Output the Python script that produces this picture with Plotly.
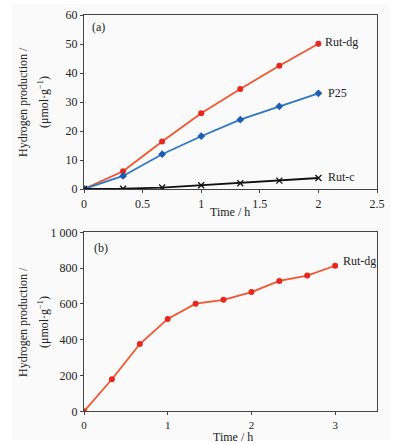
import plotly.graph_objects as go

# Panel (a)
time_a = [0, 1/3, 2/3, 1, 4/3, 5/3, 2]
rut_dg_a = [0, 6.1, 16.4, 26.1, 34.5, 42.5, 50.1]
p25_a = [0, 4.5, 12.0, 18.2, 23.9, 28.5, 33.0]
rut_c_a = [0, 0.1, 0.5, 1.3, 2.0, 2.9, 3.8]
xticks_a = [0, 0.5, 1, 1.5, 2, 2.5]
xticklabels_a = ["0", "0.5", "1", "1.5", "2", "2.5"]
yticks_a = [0, 10, 20, 30, 40, 50, 60]

# Panel (b)
time_b = [0, 1/3, 2/3, 1, 4/3, 5/3, 2, 7/3, 8/3, 3]
rut_dg_b = [0, 179, 376, 516, 601, 623, 666, 728, 758, 813]
xticks_b = [0, 1, 2, 3]
yticks_b = [0, 200, 400, 600, 800, 1000]
yticklabels_b = ["0", "200", "400", "600", "800", "1 000"]

FONT = "Liberation Serif"
RED_LINE = "#f2552c"
RED_MK = "#e8281e"
BLUE_LINE = "#2c78c8"
BLUE_MK = "#1c5eb0"

fig = go.Figure()
fig.add_trace(go.Scatter(x=time_a, y=rut_dg_a, mode="lines+markers",
                         line=dict(color=RED_LINE, width=1.8),
                         marker=dict(color=RED_MK, size=6, symbol="circle"),
                         xaxis="x", yaxis="y", showlegend=False))
fig.add_trace(go.Scatter(x=time_a, y=p25_a, mode="lines+markers",
                         line=dict(color=BLUE_LINE, width=1.8),
                         marker=dict(color=BLUE_MK, size=6, symbol="diamond"),
                         xaxis="x", yaxis="y", showlegend=False))
fig.add_trace(go.Scatter(x=time_a, y=rut_c_a, mode="lines+markers",
                         line=dict(color="#111111", width=1.8),
                         marker=dict(color="#111111", size=6, symbol="x-thin",
                                     line=dict(color="#111111", width=1.3)),
                         xaxis="x", yaxis="y", showlegend=False))
fig.add_trace(go.Scatter(x=time_b, y=rut_dg_b, mode="lines+markers",
                         line=dict(color=RED_LINE, width=1.8),
                         marker=dict(color=RED_MK, size=6, symbol="circle"),
                         xaxis="x2", yaxis="y2", showlegend=False))

def axis_style(fs=12):
    return dict(showline=True, linecolor="#444444", linewidth=1.3, mirror=True,
                ticks="outside", ticklen=3, tickcolor="#444444", showgrid=False,
                zeroline=False, automargin=False,
                tickfont=dict(family=FONT, size=fs, color="#222222"))

dx = [84/396, 377/396]
fig.update_layout(
    width=396, height=444,
    margin=dict(l=0, r=0, t=0, b=0, autoexpand=False),
    paper_bgcolor="white", plot_bgcolor="#fcfcfc",
    font=dict(family=FONT, size=12, color="#222222"),
    xaxis=dict(domain=dx, range=[0, 2.5], tickvals=xticks_a, ticktext=xticklabels_a,
               anchor="y", **axis_style()),
    yaxis=dict(domain=[1-189/444, 1-15/444], range=[0, 60], tickvals=yticks_a,
               anchor="x", **axis_style()),
    xaxis2=dict(domain=dx, range=[0, 3.5], tickvals=xticks_b,
                anchor="y2", **axis_style(11)),
    yaxis2=dict(domain=[1-411.3/444, 1-232.3/444], range=[0, 1000], tickvals=yticks_b,
                ticktext=yticklabels_b, anchor="x2", **axis_style()),
)

# background panel
fig.add_shape(type="rect", xref="paper", yref="paper", x0=12/396, x1=390/396,
              y0=1-440/444, y1=1-4/444, fillcolor="#fafafa", line=dict(width=0), layer="below")

ann = []
def txt(x, y, t, xref, yref, **kw):
    d = dict(x=x, y=y, text=t, xref=xref, yref=yref, showarrow=False,
             font=dict(family=FONT, size=12, color="#222222"))
    d.update(kw)
    ann.append(d)

txt(2, rut_dg_a[-1], "Rut-dg", "x", "y", xanchor="left", xshift=5, yshift=2)
txt(2, p25_a[-1], "P25", "x", "y", xanchor="left", xshift=8)
txt(2, rut_c_a[-1], "Rut-c", "x", "y", xanchor="left", xshift=8, yshift=1)
txt(3, rut_dg_b[-1], "Rut-dg", "x2", "y2", xanchor="left", xshift=6, yshift=5)
txt(0.05, 56, "(a)", "x", "y", xanchor="left", yanchor="middle")
txt(0.1, 915, "(b)", "x2", "y2", xanchor="left", yanchor="middle")
# axis titles
txt(230/396, 1-212/444, "Time / h", "paper", "paper", xanchor="center", yanchor="middle")
txt(233/396, 1-436.5/444, "Time / h", "paper", "paper", xanchor="center", yanchor="middle")
for yc in [102, 322]:
    txt(23/396, 1-yc/444, "Hydrogen production /", "paper", "paper",
        textangle=-90, xanchor="center", yanchor="middle")
    txt(43/396, 1-yc/444, "(μmol·g<sup>−1</sup>)", "paper", "paper",
        textangle=-90, xanchor="center", yanchor="middle")
fig.update_layout(annotations=ann)

fig.write_html("out.html", config={"displayModeBar": False},
               post_script="document.body.style.margin='0';document.body.style.padding='0';")
